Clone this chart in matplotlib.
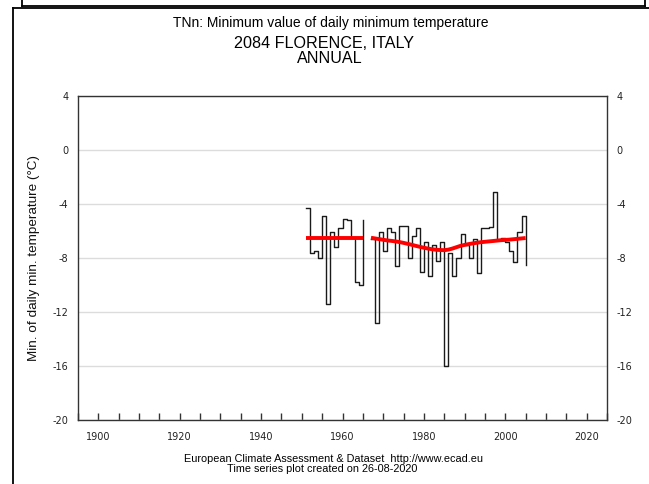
import numpy as np
import matplotlib
matplotlib.use("Agg")
import matplotlib.pyplot as plt
from matplotlib.lines import Line2D
from matplotlib.ticker import MultipleLocator

# Annual minimum of daily minimum temperature (TNn), Florence
years = list(range(1951, 2006))
tnn = [
    -4.3, -7.6, -7.5, -8.0, -4.9, -11.4, -6.1, -7.2, -5.8, -5.1,   # 1951-1960
    -5.2, -6.5, -9.8, -10.0, -5.2, np.nan, -6.6, -12.8, -6.1, -7.5,  # 1961-1970
    -5.8, -6.1, -8.6, -5.6, -5.6, -8.0, -6.4, -5.8, -9.0, -6.8,    # 1971-1980
    -9.3, -7.0, -8.2, -6.8, -16.0, -7.6, -9.3, -8.0, -6.2, -7.0,   # 1981-1990
    -8.0, -6.6, -9.1, -5.8, -5.8, -5.7, -3.1, -6.7, -6.5, -6.8,    # 1991-2000
    -7.5, -8.3, -6.1, -4.9, -8.5,                                  # 2001-2005
]
# Smoothed trend
trend = [
    -6.5, -6.5, -6.5, -6.5, -6.5, -6.5, -6.5, -6.5, -6.5, -6.5,
    -6.5, -6.5, -6.5, -6.5, -6.5, np.nan, -6.5, -6.55, -6.6, -6.65,
    -6.7, -6.73, -6.77, -6.82, -6.88, -6.95, -7.02, -7.1, -7.17, -7.24,
    -7.3, -7.35, -7.39, -7.41, -7.42, -7.38, -7.3, -7.2, -7.1, -7.03,
    -6.97, -6.92, -6.87, -6.83, -6.8, -6.77, -6.74, -6.71, -6.68, -6.66,
    -6.64, -6.61, -6.58, -6.55, -6.52,
]

title_lines = ["TNn: Minimum value of daily minimum temperature",
               "2084 FLORENCE, ITALY", "ANNUAL"]
ylabel = "Min. of daily min. temperature (\u00b0C)"
footer = ["European Climate Assessment & Dataset  http://www.ecad.eu",
          "Time series plot created on 26-08-2020"]

W, H = 649, 484
plt.rcParams["font.family"] = ["Liberation Sans", "DejaVu Sans"]
fig = plt.figure(figsize=(W / 100, H / 100), dpi=100)
fig.patch.set_facecolor("white")


def px(x, y):
    return x / W, 1 - y / H


def runs(x, y):
    x = np.asarray(x, float)
    y = np.asarray(y, float)
    ok = ~np.isnan(y)
    idx = np.flatnonzero(np.diff(np.r_[0, ok.astype(int), 0]))
    for a, b in zip(idx[::2], idx[1::2]):
        yield x[a:b], y[a:b]


ax = fig.add_axes([78 / W, 1 - 420 / H, (607 - 78) / W, (420 - 96) / H])
ax.set_xlim(1895, 2025)
ax.set_ylim(-20, 4)

for xs, ys in runs(years, tnn):
    ax.plot(xs, ys, drawstyle="steps-post", color="#1a1a1a", lw=1.0, zorder=3)
for xs, ys in runs(years, trend):
    ax.plot(xs, ys, color="#ff0000", lw=2.8, solid_capstyle="butt", zorder=4)

ax.yaxis.set_major_locator(MultipleLocator(4))
ax.xaxis.set_major_locator(MultipleLocator(20))
ax.xaxis.set_minor_locator(MultipleLocator(5))
ax.grid(axis="y", color="#dcdcdc", lw=1.0, zorder=0)
for s in ax.spines.values():
    s.set_color("#333333")
    s.set_linewidth(1.0)

ax.tick_params(axis="x", which="both", direction="in", length=5, width=1,
               color="#333333", top=False, labelsize=7, pad=8.5,
               labelcolor="#222222")
ax.tick_params(axis="y", which="both", length=0, left=True, right=True,
               labelleft=True, labelright=True, labelsize=7, pad=7,
               labelcolor="#222222")
for lbl in ax.get_xticklabels():
    lbl.set_family("DejaVu Sans")
ax.set_yticks(np.arange(-20, 5, 4))
ax.set_yticklabels([str(v) for v in range(-20, 5, 4)], family="DejaVu Sans")

ax.set_ylabel(ylabel, fontsize=9.7, color="#111111")
ax.yaxis.set_label_coords((40 - 78) / (607 - 78), 0.5)

fig.text(*px(331, 26.5), title_lines[0], ha="center", va="baseline", fontsize=10.0)
fig.text(*px(324, 48.5), title_lines[1], ha="center", va="baseline", fontsize=11.6)
fig.text(*px(330, 63), title_lines[2], ha="center", va="baseline", fontsize=11.6)
fig.text(*px(333, 461.5), footer[0], ha="center", va="baseline", fontsize=7.8)
fig.text(*px(322, 472.5), footer[1], ha="center", va="baseline", fontsize=7.8)

# Panel frame lines
frame = [
    ((22, 0), (22, 6)), ((22, 6), (645, 6)), ((645, 6), (645, 0)),
    ((12.5, 7.5), (649, 7.5)), ((12.5, 7.5), (12.5, 484)),
]
for (x0, y0), (x1, y1) in frame:
    a = px(x0, y0)
    b = px(x1, y1)
    fig.add_artist(Line2D([a[0], b[0]], [a[1], b[1]], color="black",
                          lw=1.3, transform=fig.transFigure))

fig.savefig("out.png", dpi=100)
